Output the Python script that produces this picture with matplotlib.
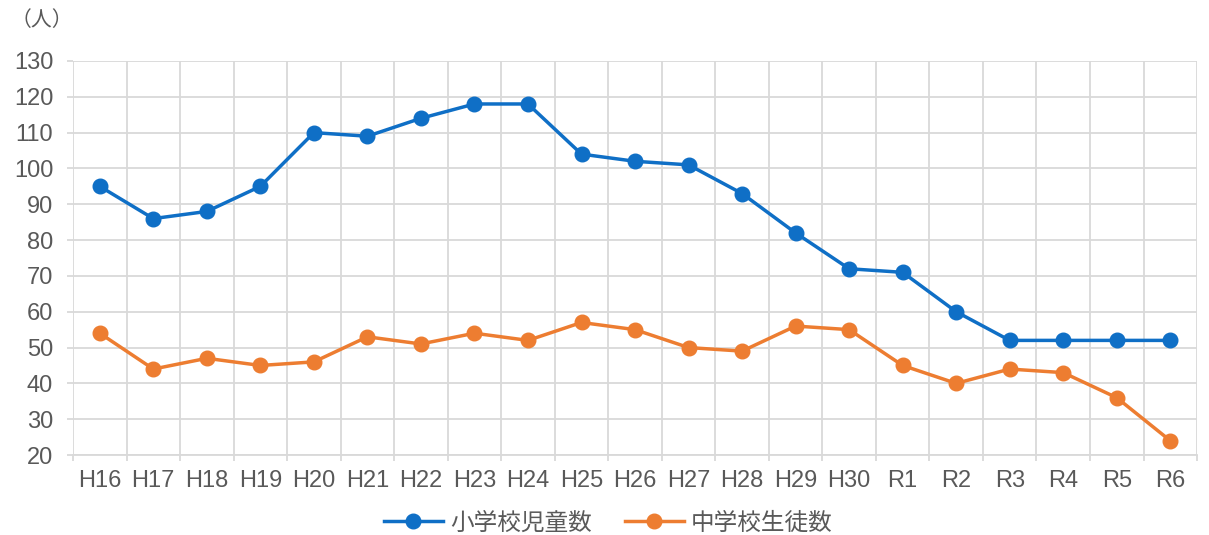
import matplotlib

matplotlib.use("Agg")
import matplotlib.pyplot as plt

years = ["H16", "H17", "H18", "H19", "H20", "H21", "H22", "H23", "H24", "H25",
         "H26", "H27", "H28", "H29", "H30", "R1", "R2", "R3", "R4", "R5", "R6"]
elementary = [95, 86, 88, 95, 110, 109, 114, 118, 118, 104,
              102, 101, 93, 82, 72, 71, 60, 52, 52, 52, 52]
junior_high = [54, 44, 47, 45, 46, 53, 51, 54, 52, 57,
               55, 50, 49, 56, 55, 45, 40, 44, 43, 36, 24]
series_names = ["小学校児童数", "中学校生徒数"]

plt.rcParams["font.family"] = ["Liberation Sans", "Noto Sans CJK JP", "DejaVu Sans"]
text_color = "#595959"
grid_color = "#D9D9D9"

fig = plt.figure(figsize=(12.09, 5.35), dpi=100)
ax = fig.add_axes([0.0604, 0.1495, 0.9297, 0.7365])

x = list(range(len(years)))
ax.plot(x, elementary, color="#0F6FC6", lw=2.5, marker="o", ms=10.5,
        label=series_names[0], zorder=3)
ax.plot(x, junior_high, color="#ED7D31", lw=2.5, marker="o", ms=10.5,
        label=series_names[1], zorder=3)

ax.set_xlim(-0.5, len(years) - 0.5)
ax.set_ylim(20, 130)
ax.set_yticks(range(20, 131, 10))
ax.set_xticks(x)
ax.set_xticklabels(years)
ax.set_xticks([i - 0.5 for i in range(len(years) + 1)], minor=True)

ax.grid(False)
ax.grid(True, which="minor", axis="x", color=grid_color, lw=1.3)
ax.grid(True, which="major", axis="y", color=grid_color, lw=1.3)
ax.set_axisbelow(True)

for side in ("top", "right", "left"):
    ax.spines[side].set_visible(False)
ax.spines["bottom"].set_color(grid_color)
ax.spines["bottom"].set_linewidth(1.3)

ax.tick_params(axis="x", which="major", length=0, pad=11,
               labelsize=17, labelcolor=text_color)
ax.tick_params(axis="x", which="minor", length=4.3, width=1.3, color=grid_color)
ax.tick_params(axis="y", length=4.3, width=1.3, color=grid_color,
               labelsize=17, labelcolor=text_color, pad=10)

fig.text(0.009, 0.962, "（人）", fontsize=15, color=text_color,
         family=["Noto Sans CJK JP", "DejaVu Sans"], va="center")

leg = fig.legend(loc="center", bbox_to_anchor=(0.503, 0.022), ncol=2,
                 frameon=False, handlelength=2.5, columnspacing=1.4,
                 handletextpad=0.3, prop={"family": ["Noto Sans CJK JP"], "size": 17})
for t in leg.get_texts():
    t.set_color(text_color)

fig.savefig("out.png", dpi=100)
